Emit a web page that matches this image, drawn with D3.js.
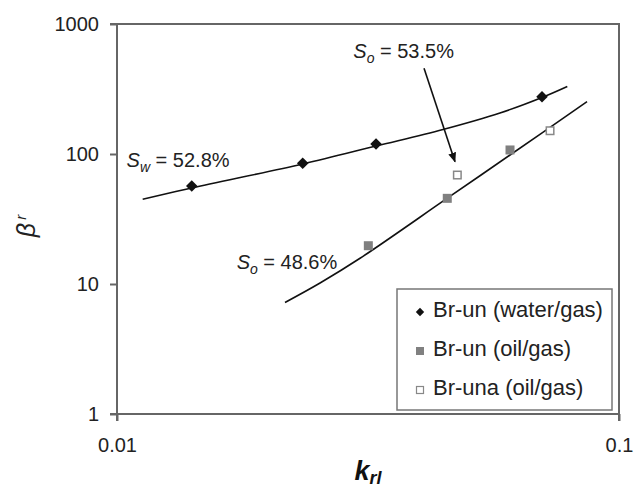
<!DOCTYPE html>
<html>
<head>
<meta charset="utf-8">
<script src="https://cdn.jsdelivr.net/npm/d3@7"></script>
<style>
    body { margin: 0; background: #fff; }
    svg { font-family: "Liberation Sans", Arial, sans-serif; }
</style>
</head>
<body>
<svg id="chart" width="636" height="489"></svg>
<script>
// data (k_rl, beta_r)
const waterGasPoints = [[0.01409, 56.7], [0.02344, 84.8], [0.03281, 119.4], [0.07025, 276]];
const oilGasPoints = [[0.03167, 19.7], [0.04549, 45.6], [0.06066, 107.4]];
const unaOilGasPoints = [[0.04764, 68.9], [0.07289, 151]];

const waterGasCurve = [
    [0.01125, 44.8], [0.01409, 54.8], [0.02344, 83.8], [0.03281, 115.2],
    [0.0446, 154.3], [0.05793, 206.8], [0.07025, 272.1], [0.07889, 330.4]
];
const oilGasCurve = [
    [0.02161, 7.21], [0.02538, 10.18], [0.03049, 15.77], [0.04543, 45.5],
    [0.06066, 98.2], [0.08636, 252.6]
];

const xTicks = [0.01, 0.1];
const yTicks = [1, 10, 100, 1000];

const legendLabels = ["Br-un (water/gas)", "Br-un (oil/gas)", "Br-una (oil/gas)"];

// annotations: [x, y] anchor in data units
const notes = [
    { main: "S", sub: "w", rest: " = 52.8%", at: [0.01045, 79.9] },
    { main: "S", sub: "o", rest: " = 53.5%", at: [0.02956, 545] },
    { main: "S", sub: "o", rest: " = 48.6%", at: [0.01731, 13.04] }
];
const arrowFrom = [0.04089, 456];
const arrowTo = [0.04713, 87.3];

const frame = { left: 117, right: 619, top: 24, bottom: 414 };
const axisColor = "#666";

const svg = d3.select("#chart");

const scaleX = d3.scaleLog().domain([0.01, 0.1]).range([frame.left, frame.right]);
const scaleY = d3.scaleLog().domain([1, 1000]).range([frame.bottom, frame.top]);

svg.append("defs").append("marker")
    .attr("id", "arrowHead")
    .attr("viewBox", "0 0 10 10")
    .attr("refX", 9)
    .attr("refY", 5)
    .attr("markerWidth", 10)
    .attr("markerHeight", 10)
    .attr("markerUnits", "userSpaceOnUse")
    .attr("orient", "auto")
    .append("path")
    .attr("d", "M0,1 L10,5 L0,9 Z")
    .attr("fill", "#111");

// frame (top and right)
svg.append("path")
    .attr("d", `M${frame.left},${frame.top} H${frame.right} V${frame.bottom}`)
    .attr("fill", "none")
    .attr("stroke", axisColor)
    .attr("stroke-width", 2);

const xAxis = d3.axisBottom(scaleX)
    .tickValues(xTicks)
    .tickFormat((d) => String(d))
    .tickSize(7)
    .tickPadding(17);

const yAxis = d3.axisLeft(scaleY)
    .tickValues(yTicks)
    .tickFormat((d) => String(d))
    .tickSize(7)
    .tickPadding(11);

function styleAxis(g) {
    g.select(".domain").attr("stroke", axisColor).attr("stroke-width", 2);
    g.selectAll(".tick line").attr("stroke", axisColor).attr("stroke-width", 2);
    g.selectAll(".tick text")
        .attr("fill", "#222")
        .style("font-size", "20px")
        .style("font-family", "Liberation Sans, Arial, sans-serif");
}

svg.append("g")
    .attr("transform", `translate(0, ${frame.bottom})`)
    .call(xAxis)
    .call((g) => g.select(".domain").attr("d", `M${frame.left},7V0H${frame.right}V7`))
    .call(styleAxis);

svg.append("g")
    .attr("transform", `translate(${frame.left}, 0)`)
    .call(yAxis)
    .call((g) => g.select(".domain").attr("d", `M-7,${frame.top}H0V${frame.bottom}H-7`))
    .call(styleAxis);

// fitted curves
const lineGenerator = d3.line()
    .x((d) => scaleX(d[0]))
    .y((d) => scaleY(d[1]))
    .curve(d3.curveCatmullRom);

svg.selectAll("path.fit")
    .data([waterGasCurve, oilGasCurve])
    .join("path")
    .attr("class", "fit")
    .attr("fill", "none")
    .attr("stroke", "#111")
    .attr("stroke-width", 1.6)
    .attr("d", lineGenerator);

// markers
const diamond = d3.symbol().type(d3.symbolDiamond2);

svg.selectAll("path.water")
    .data(waterGasPoints)
    .join("path")
    .attr("class", "water")
    .attr("transform", (d) => `translate(${scaleX(d[0])}, ${scaleY(d[1])})`)
    .attr("d", diamond.size(85)())
    .attr("fill", "#111");

const sq = 9;
svg.selectAll("rect.oil")
    .data(oilGasPoints)
    .join("rect")
    .attr("class", "oil")
    .attr("x", (d) => scaleX(d[0]) - sq / 2)
    .attr("y", (d) => scaleY(d[1]) - sq / 2)
    .attr("width", sq)
    .attr("height", sq)
    .attr("fill", "#808080");

svg.selectAll("rect.una")
    .data(unaOilGasPoints)
    .join("rect")
    .attr("class", "una")
    .attr("x", (d) => scaleX(d[0]) - sq / 2 + 0.75)
    .attr("y", (d) => scaleY(d[1]) - sq / 2 + 0.75)
    .attr("width", sq - 1.5)
    .attr("height", sq - 1.5)
    .attr("fill", "#fff")
    .attr("stroke", "#888")
    .attr("stroke-width", 1.5);

// arrow
svg.append("line")
    .attr("x1", scaleX(arrowFrom[0]))
    .attr("y1", scaleY(arrowFrom[1]))
    .attr("x2", scaleX(arrowTo[0]))
    .attr("y2", scaleY(arrowTo[1]))
    .attr("stroke", "#111")
    .attr("stroke-width", 1.6)
    .attr("marker-end", "url(#arrowHead)");

// annotation labels
notes.forEach((n) => {
    const t = svg.append("text")
        .attr("x", scaleX(n.at[0]))
        .attr("y", scaleY(n.at[1]))
        .attr("fill", "#222")
        .style("font-size", "20px");
    t.append("tspan").attr("font-style", "italic").text(n.main);
    t.append("tspan").attr("font-style", "italic").attr("dy", 5).style("font-size", "14px").text(n.sub);
    t.append("tspan").attr("dy", -5).text(n.rest);
});

// legend
const legend = svg.append("g").attr("transform", "translate(397, 289)");
legend.append("rect")
    .attr("width", 215)
    .attr("height", 121)
    .attr("fill", "#fff")
    .attr("stroke", "#777")
    .attr("stroke-width", 1.5);

const rows = legend.selectAll("g.row")
    .data(legendLabels)
    .join("g")
    .attr("class", "row")
    .attr("transform", (d, i) => `translate(0, ${20 + i * 39})`);

rows.append("text")
    .attr("x", 36)
    .attr("dy", "0.35em")
    .attr("fill", "#222")
    .style("font-size", "22px")
    .text((d) => d);

rows.filter((d, i) => i === 0)
    .append("path")
    .attr("transform", "translate(23, 3)")
    .attr("d", diamond.size(45)())
    .attr("fill", "#111");
rows.filter((d, i) => i === 1)
    .append("rect")
    .attr("x", 19).attr("y", -1).attr("width", 8).attr("height", 8)
    .attr("fill", "#808080");
rows.filter((d, i) => i === 2)
    .append("rect")
    .attr("x", 19.5).attr("y", -0.5).attr("width", 7).attr("height", 7)
    .attr("fill", "#fff").attr("stroke", "#888").attr("stroke-width", 1.2);

// axis titles
const xTitle = svg.append("text")
    .attr("x", (frame.left + frame.right) / 2)
    .attr("y", 480)
    .attr("text-anchor", "middle")
    .attr("fill", "#111")
    .style("font-size", "27px")
    .style("font-weight", "bold")
    .style("font-style", "italic");
xTitle.append("tspan").text("k");
xTitle.append("tspan").attr("dy", 4).style("font-size", "18px").text("rl");

const yTitle = svg.append("text")
    .attr("transform", "translate(35, 226) rotate(-90)")
    .attr("text-anchor", "middle")
    .attr("fill", "#222")
    .style("font-size", "25px")
    .style("font-style", "italic");
yTitle.append("tspan").text("β");
yTitle.append("tspan").attr("dx", 3).attr("dy", -9).style("font-size", "15px").text("r");
</script>
</body>
</html>
